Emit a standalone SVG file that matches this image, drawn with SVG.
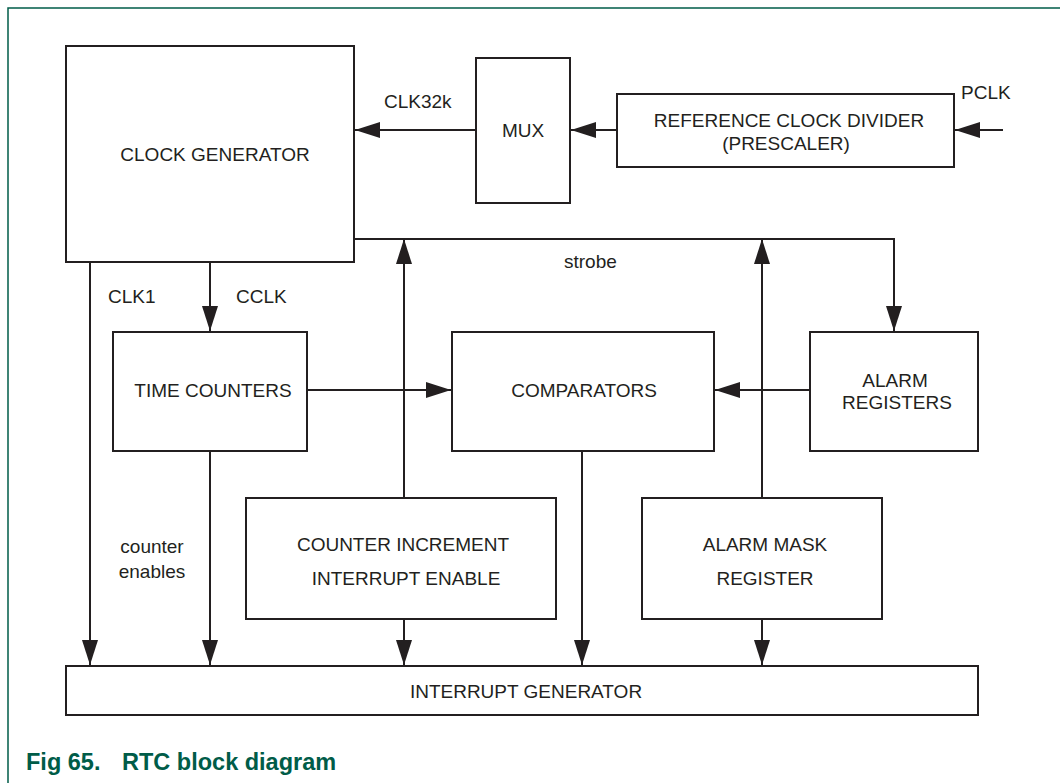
<svg xmlns="http://www.w3.org/2000/svg" width="1060" height="783" viewBox="0 0 1060 783">
<defs>
<marker id="ah" markerUnits="userSpaceOnUse" markerWidth="25" markerHeight="16" refX="25" refY="8" orient="auto">
<path d="M0,0 L25,8 L0,16 z" fill="#231f20"/>
</marker>
<style>
.box{fill:#fff;stroke:#231f20;stroke-width:2}
.t{font-family:"Liberation Sans",Arial,sans-serif;font-size:19px;fill:#231f20;text-anchor:middle}
.l{font-family:"Liberation Sans",Arial,sans-serif;font-size:19px;fill:#231f20}
.c{fill:none;stroke:#231f20;stroke-width:2;marker-end:url(#ah)}
.frame{fill:none;stroke:#005c48;stroke-width:1.5}
.cap{font-family:"Liberation Sans",Arial,sans-serif;font-size:23.5px;font-weight:bold;fill:#005c48}
</style>
</defs>
<rect width="1060" height="783" fill="#fff"/>
<path class="frame" d="M1060,8 H8 V783"/>
<g id="connectors">
<path class="c" d="M476,130 H355"/>
<path class="c" d="M617,130 H571"/>
<path class="c" d="M1003,130 H955"/>
<path class="c" d="M354,239 H894 V331"/>
<path class="c" d="M404,498 V239"/>
<path class="c" d="M762,498 V239"/>
<path class="c" d="M90,262 V665"/>
<path class="c" d="M210,262 V331"/>
<path class="c" d="M307,390 H451"/>
<path class="c" d="M810,390 H715"/>
<path class="c" d="M210,451 V665"/>
<path class="c" d="M582,451 V665"/>
<path class="c" d="M404,619 V665"/>
<path class="c" d="M762,619 V665"/>
<text class="l" x="384" y="108">CLK32k</text>
<text class="l" x="961" y="99">PCLK</text>
<text class="l" x="564" y="268">strobe</text>
<text class="l" x="108" y="303">CLK1</text>
<text class="l" x="236" y="303">CCLK</text>
<text class="t" x="152" y="553">counter</text>
<text class="t" x="152" y="578">enables</text>
</g>
<g id="clock-generator">
<rect class="box" x="66" y="46" width="288" height="216"/>
<text class="t" x="215" y="161">CLOCK GENERATOR</text>
</g>
<g id="mux">
<rect class="box" x="476" y="58" width="94" height="145"/>
<text class="t" x="523" y="137">MUX</text>
</g>
<g id="reference-clock-divider">
<rect class="box" x="617" y="94" width="337" height="73"/>
<text class="t" x="789" y="127">REFERENCE CLOCK DIVIDER</text>
<text class="t" x="786" y="150">(PRESCALER)</text>
</g>
<g id="time-counters">
<rect class="box" x="113" y="332" width="194" height="119"/>
<text class="t" x="213" y="397">TIME COUNTERS</text>
</g>
<g id="comparators">
<rect class="box" x="452" y="332" width="262" height="119"/>
<text class="t" x="584" y="397">COMPARATORS</text>
</g>
<g id="alarm-registers">
<rect class="box" x="810" y="332" width="168" height="119"/>
<text class="t" x="895" y="387">ALARM</text>
<text class="t" x="897" y="409">REGISTERS</text>
</g>
<g id="counter-increment-interrupt-enable">
<rect class="box" x="246" y="498" width="310" height="121"/>
<text class="t" x="403" y="551">COUNTER INCREMENT</text>
<text class="t" x="406" y="585">INTERRUPT ENABLE</text>
</g>
<g id="alarm-mask-register">
<rect class="box" x="642" y="498" width="240" height="121"/>
<text class="t" x="765" y="551">ALARM MASK</text>
<text class="t" x="765" y="585">REGISTER</text>
</g>
<g id="interrupt-generator">
<rect class="box" x="66" y="666" width="912" height="49"/>
<text class="t" x="526" y="698">INTERRUPT GENERATOR</text>
</g>
<text class="cap" x="26" y="770">Fig 65.</text>
<text class="cap" x="122" y="770">RTC block diagram</text>
</svg>
